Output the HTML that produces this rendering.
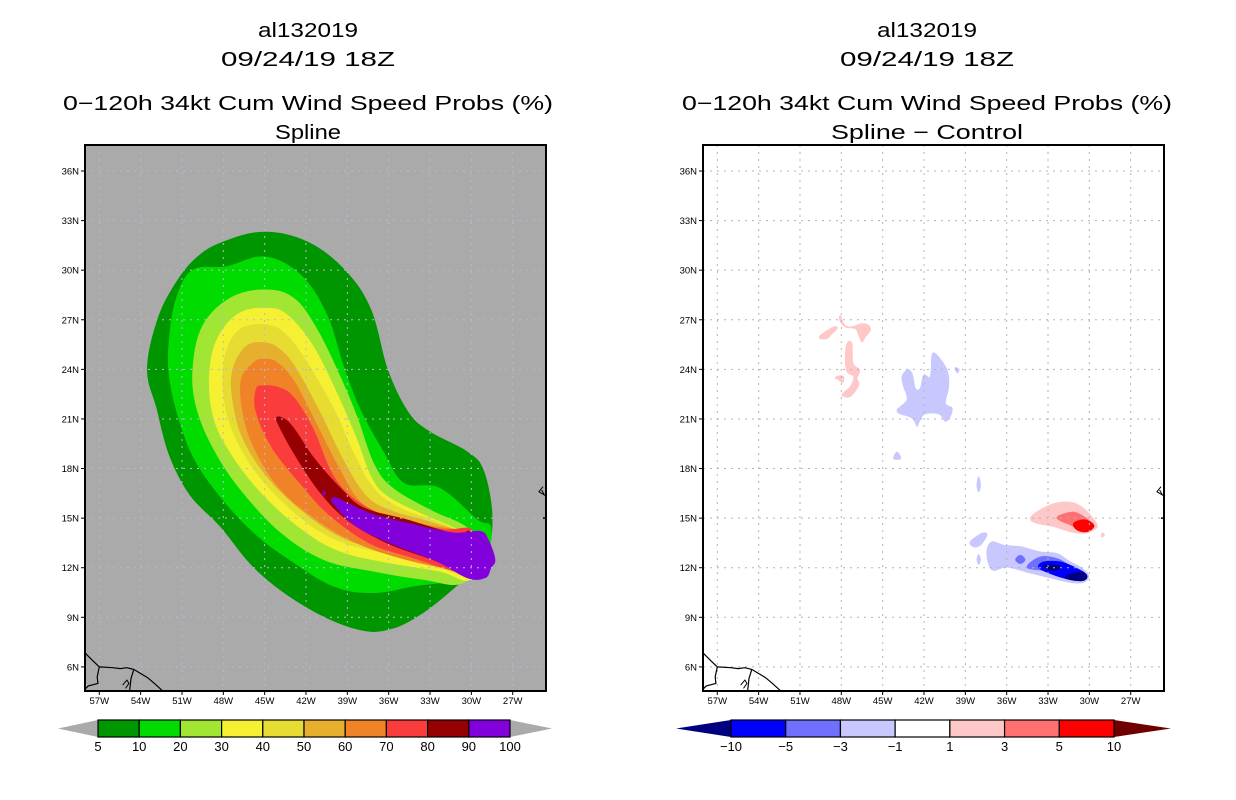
<!DOCTYPE html>
<html><head><meta charset="utf-8"><style>
html,body{margin:0;padding:0;background:#fff;}
svg{display:block;font-family:"Liberation Sans",sans-serif;}
</style></head><body>
<svg id="svg" width="1236" height="800" viewBox="0 0 1236 800" xmlns="http://www.w3.org/2000/svg"></svg>
<script>
// ---- data ----
const lonTicks = [57,54,51,48,45,42,39,36,33,30,27];
const latTicks = [36,33,30,27,24,21,18,15,12,9,6];
const probLevels = [5,10,20,30,40,50,60,70,80,90,100];
const probColors = ["#009600","#00dc00","#a0e632","#f5f032","#e6dc32","#e6af2d","#f08228","#fa3c3c","#960000","#8200dc"];
const diffLevels = ["\u221210","\u22125","\u22123","\u22121","1","3","5","10"];
const diffColors = ["#0000ff","#7070ff","#c8c8ff","#ffffff","#ffc8c8","#ff7070","#ff0000"];
// contours [lonW, lat]
const c5 = [[45,32.3],[48,31.7],[50,30.7],[51.6,29],[52.8,26.9],[53.5,24],[52.8,21.6],[51.9,18.8],[50.4,16.4],[48.2,14.5],[45.5,11.8],[41.9,9.6],[38.3,8.3],[35.9,8.3],[33.5,9.3],[31.1,10.9],[29.1,12.5],[28.5,14.9],[29.1,17.8],[30.3,19],[33,20.2],[34.6,21.4],[36.1,24],[37.3,27.6],[39.2,30],[41.9,31.7]];
const c10 = [[45,30.8],[47.8,30.2],[50.2,30],[51.4,28.3],[51.9,25.9],[51.9,23.5],[51.1,20.7],[49.9,18.3],[47.8,15.9],[45.6,14],[43.2,12.5],[40,10.9],[37.1,10.5],[34.2,10.9],[31.1,11.3],[29.1,12.3],[28.6,14.4],[29.6,14.9],[32.3,16.8],[34.9,17.1],[36.4,19],[38.1,21.6],[39.3,24.2],[40.5,27.3],[42.4,29.7]];
const c20 = [[45,28.8],[47.5,28.3],[49.5,26.6],[50.2,24],[49.9,21.6],[48.7,19.2],[46.8,16.8],[43.9,14.2],[40.7,12.5],[37.1,11.8],[33.5,11.3],[30.6,11.1],[29.4,13],[30.3,14.4],[32.8,15.4],[35.7,16.8],[37.1,18.3],[38.3,21.1],[39.5,23.5],[41.2,26.4],[42.9,28.3]];
const c30 = [[45,27.7],[47,27.3],[48.5,25.7],[49,23.5],[48.7,21.1],[47.5,19],[45.3,16.6],[42.4,14.4],[39.5,13],[35.9,12.3],[32.3,11.8],[30.1,11.3],[29.4,13.2],[30.8,14.2],[33.5,15.2],[36.1,16.3],[37.3,17.5],[38.3,19.7],[39.8,22.6],[41.5,25.4],[43.4,27.3]];
const c40 = [[45,26.7],[46.8,26.4],[47.8,25],[48,23],[47.5,20.7],[45.8,18],[42.9,15.4],[39.8,13.7],[35.9,12.8],[32.3,12],[30.1,11.6],[29.6,13.5],[32.3,14.7],[35.2,15.6],[37.1,16.8],[38.6,19],[40,21.6],[42,24.5],[43.6,26.2]];
const c50 = [[45,25.6],[46.3,25.4],[47.3,24],[47.3,22.1],[46.5,19.7],[44.6,17.3],[41.9,15.2],[39,13.7],[35.2,12.8],[31.8,12],[30.1,11.7],[29.9,13.7],[32.8,14.7],[35.7,15.4],[37.6,16.3],[39.3,18.5],[41,21.4],[42.7,24],[43.9,25.2]];
const c60 = [[45,24.6],[45.8,24.4],[46.7,23.3],[46.5,21.1],[45.6,19],[43.9,16.8],[41.2,14.9],[38.3,13.5],[34.7,12.5],[31.3,11.9],[30.1,11.8],[29.9,13.9],[32.8,14.5],[35.9,15],[38.1,16],[39.8,18.3],[41.5,21.1],[42.9,23.3],[44.1,24.4]];
const c70 = [[45,23],[45.6,22.8],[45.6,21.4],[44.4,19.2],[42.4,17.1],[40.3,15.2],[37.4,13.5],[34.2,12.6],[30.8,11.7],[29.9,11.8],[29.9,14.2],[32,14.3],[35.4,14.9],[38.1,15.9],[40,17.5],[41.5,20.4],[42.9,22.3],[44,22.9]];
const c80 = [[44.1,21.1],[43.9,20.5],[42.7,18.7],[41,16.6],[39,14.9],[36.1,13.5],[32.8,12.5],[30.3,11.6],[29.9,12],[30.1,14.1],[31.1,14],[34.7,14.9],[37.8,15.6],[39.5,16.8],[41.5,18.7],[42.7,20.2],[43.4,20.9]];
const c90 = [[40.1,16.2],[40,15.9],[38.5,14.6],[35.9,13.5],[32.5,12.4],[30.3,11.4],[29,11.4],[28.6,12],[28.3,12.5],[28.8,13.7],[29.4,14.2],[31.3,14.1],[34.7,14.7],[37.1,15.2],[39,15.9],[39.7,16.2]];
const probContours = [c5,c10,c20,c30,c40,c50,c60,c70,c80,c90];
// difference field blobs
const diffBlobs = [
 {c:"#ffc8c8", p:[[48.07,27.26],[47.83,26.76],[47.35,26.56],[46.5,26.76],[46.02,26.66],[45.9,26.36],[46.26,25.96],[46.5,25.66],[46.74,26.06],[46.98,26.46],[47.7,26.56],[48.12,26.96]]},
 {c:"#ffc8c8", p:[[49.52,26.06],[48.56,26.56],[48.31,26.46],[48.8,26.06],[49.04,25.86],[49.52,25.86]]},
 {c:"#ffc8c8", p:[[47.59,25.56],[47.23,25.56],[47.15,24.36],[46.67,23.96],[46.86,23.46],[46.74,23.06],[47.35,22.36],[47.95,22.46],[47.35,22.96],[47.1,23.56],[47.59,23.86],[47.71,24.66]]},
 {c:"#ffc8c8", p:[[48.44,23.52],[47.88,23.6],[47.88,23.2],[48.19,23.36]]},
 {c:"#c8c8ff", p:[[43.23,23.96],[42.87,23.76],[42.63,22.86],[42.27,22.86],[42.02,23.66],[41.54,23.56],[41.42,24.86],[41.06,24.86],[40.33,23.96],[40.21,22.96],[40.45,21.96],[39.97,21.66],[40.09,21.16],[40.45,20.86],[40.82,21.26],[41.42,21.36],[42.02,21.26],[42.39,20.76],[42.51,20.56],[42.87,21.06],[43.96,21.46],[43.23,22.16],[43.48,22.96],[43.6,23.56]]},
 {c:"#c8c8ff", p:[[43.96,19.0],[43.7,18.6],[44.2,18.6]]},
 {c:"#c8c8ff", p:[[39.75,24.1],[39.45,24.0],[39.6,23.8]]},
 {c:"#c8c8ff", p:[[38.03,17.5],[37.9,17.0],[38.03,16.6],[38.16,17.0]]},
 {c:"#ffc8c8", p:[[34.28,15],[33.56,15.51],[32.35,15.92],[31.14,15.92],[30.17,15.41],[29.44,14.59],[29.69,14.28],[30.41,14.08],[31.38,14.18],[32.59,14.49],[33.8,14.69]]},
 {c:"#ffc8c8", p:[[29.1,14.1],[28.9,13.98],[29.1,13.85]]},
 {c:"#ff7070", p:[[32.35,15],[31.62,15.31],[30.9,15.31],[29.93,14.8],[29.69,14.49],[30.41,14.28],[31.38,14.59]]},
 {c:"#ff0000", p:[[31.14,14.69],[30.41,14.9],[29.81,14.69],[29.69,14.45],[30.17,14.18],[30.9,14.29]]},
 {c:"#c8c8ff", p:[[38.64,13.57],[37.79,14.08],[37.43,13.98],[37.91,13.37],[38.4,13.27]]},
 {c:"#c8c8ff", p:[[38.03,12.8],[37.9,12.5],[38.03,12.2],[38.16,12.5]]},
 {c:"#c8c8ff", p:[[37.43,13.06],[37.06,13.57],[36.22,13.37],[35.01,13.27],[33.56,12.96],[32.35,12.86],[31.38,12.35],[30.65,12.04],[30.05,11.53],[30.41,11.12],[31.38,11.12],[33.07,11.43],[34.52,11.73],[35.98,12.04],[36.94,11.84],[37.31,12.24]]},
 {c:"#7070ff", p:[[34.52,12.04],[33.56,12.65],[32.35,12.55],[31.62,12.24],[30.9,11.94],[31.62,11.73],[33.31,11.84]]},
 {c:"#7070ff", p:[[35.35,12.49],[35.01,12.75],[34.67,12.49],[35.01,12.25]]},
 {c:"#0000ff", p:[[33.68,12.04],[33.31,12.35],[32.1,12.35],[31.14,12.04],[30.41,11.73],[30.17,11.47],[30.53,11.22],[31.62,11.33],[33.07,11.73]]},
 {c:"#000080", p:[[33.31,12.14],[32.35,12.14],[32.1,11.94],[32.83,11.84]]},
 {c:"#000080", p:[[31.62,11.53],[30.65,11.73],[30.17,11.47],[30.53,11.22],[31.62,11.33]]}
];
const coast = [[58.1,6.9],[57.5,6.4],[57,6.0],[56,5.95],[55.5,5.9],[55,5.95],[54.5,5.85],[54,5.6],[53.5,5.35],[53,5.0],[52.4,4.55]];
const border1 = [[57.0,6.0],[57.15,5.4],[57.1,5.0],[57.8,4.85],[58.1,4.6]];
const border2 = [[54.5,5.85],[54.7,5.3],[54.8,4.55]];
const titleL = ["al132019","09/24/19 18Z","0\u2212120h 34kt Cum Wind Speed Probs (%)","Spline"];
const titleR = ["al132019","09/24/19 18Z","0\u2212120h 34kt Cum Wind Speed Probs (%)","Spline \u2212 Control"];

// ---- helpers ----
const NS="http://www.w3.org/2000/svg";
const svg=document.getElementById('svg');
function mk(tag,attrs,parent){const e=document.createElementNS(NS,tag);for(const k in attrs)e.setAttribute(k,attrs[k]);(parent||svg).appendChild(e);return e;}
function X(lonW,ox){return 99.3+(57-lonW)*13.78+ox;}
function Y(lat){return 171+(36-lat)*16.53;}
function pts(arr,ox){return arr.map(p=>X(p[0],ox).toFixed(1)+','+Y(p[1]).toFixed(1)).join(' ');}
function smooth(arr,ox){
  const P=arr.map(p=>[X(p[0],ox),Y(p[1])]);const n=P.length;
  let d='M'+P[0][0].toFixed(1)+','+P[0][1].toFixed(1);
  for(let i=0;i<n;i++){
    const p0=P[(i-1+n)%n],p1=P[i],p2=P[(i+1)%n],p3=P[(i+2)%n];
    const t=0.18;
    const c1=[p1[0]+(p2[0]-p0[0])*t,p1[1]+(p2[1]-p0[1])*t];
    const c2=[p2[0]-(p3[0]-p1[0])*t,p2[1]-(p3[1]-p1[1])*t];
    d+=' C'+c1.map(v=>v.toFixed(1)).join(',')+' '+c2.map(v=>v.toFixed(1)).join(',')+' '+p2.map(v=>v.toFixed(1)).join(',');
  }
  return d+'Z';
}
const FX0=85,FX1=546,FY0=145,FY1=691;

function panel(ox,idx){
  const g=mk('g',{});
  
  
  const cp=mk('clipPath',{id:'clip'+idx},g);
  mk('rect',{x:FX0+ox,y:FY0,width:FX1-FX0,height:FY1-FY0},cp);
  const inner=mk('g',{'clip-path':'url(#clip'+idx+')'},g);
  const bg=mk('rect',{x:FX0+ox,y:FY0,width:FX1-FX0,height:FY1-FY0,fill:idx===0?'#aaaaaa':'#ffffff'},inner);
  
  
  if(idx===0){
    probContours.forEach((c,i)=>{
      const pg=mk('path',{d:smooth(c,ox),fill:probColors[i],stroke:probColors[i],'stroke-width':1},inner);
      
      
    });
    const dot=mk('polygon',{points:pts([[40.8,16.7],[40.5,16.5],[40.8,16.35]],ox),fill:'#8200dc'},inner);
    
    
  } else {
    diffBlobs.forEach((b,i)=>{
      const pg=mk('path',{d:smooth(b.p,ox),fill:b.c,stroke:b.c,'stroke-width':0.8},inner);
      
      
    });
  }
  const gc=idx===0?'#b8b8d8':'#b4b4b4';
  lonTicks.forEach(l=>{
    const ln=mk('line',{x1:X(l,ox),x2:X(l,ox),y1:FY0,y2:FY1,stroke:gc,'stroke-width':1,'stroke-dasharray':'2,5'},inner);
    
    
  });
  latTicks.forEach(l=>{
    const ln=mk('line',{x1:FX0+ox,x2:FX1+ox,y1:Y(l),y2:Y(l),stroke:gc,'stroke-width':1,'stroke-dasharray':'2,5'},inner);
    
    
  });
  [coast,border1,border2].forEach(c=>{
    const pl=mk('polyline',{points:pts(c,ox),fill:'none',stroke:'#000','stroke-width':1.2},inner);
    
    
  });
  const isl=mk('polyline',{points:pts([[55.3,4.9],[55.0,5.2],[54.85,5.0],[55.1,4.7]],ox),fill:'none',stroke:'#000','stroke-width':1},inner);
  
  
  const cv=mk('polyline',{points:pts([[24.8,16.9],[25.1,16.6],[24.7,16.4],[24.9,16.7]],ox),fill:'none',stroke:'#000','stroke-width':1},inner);
  
  
  const fr=mk('rect',{x:FX0+ox,y:FY0,width:FX1-FX0,height:FY1-FY0,fill:'none',stroke:'#000','stroke-width':2},g);
  
  
  mk('line',{x1:FX1+ox-3,x2:FX1+ox,y1:Y(15),y2:Y(15),stroke:'#000','stroke-width':1.5},g);
  latTicks.forEach(l=>{
    mk('line',{x1:FX0+ox-4,x2:FX0+ox,y1:Y(l),y2:Y(l),stroke:'#000','stroke-width':1},g);
    const t=mk('text',{x:FX0+ox-6,y:Y(l)+3.5,'font-size':9.5,'text-anchor':'end',fill:'#000'},g);
    t.textContent=l+'N';
    
    
  });
  lonTicks.forEach(l=>{
    mk('line',{x1:X(l,ox),x2:X(l,ox),y1:FY1,y2:FY1+4,stroke:'#000','stroke-width':1},g);
    const t=mk('text',{x:X(l,ox),y:FY1+13,'font-size':9.5,'text-anchor':'middle',fill:'#000'},g);
    t.textContent=l+'W';
    
    
  });
  const tl=idx===0?titleL:titleR;
  const cx=idx===0?308:927;
  const ys=[37,66,110,139];
  const ws=[100,174,490,idx===0?66:192];
  tl.forEach((s,i)=>{
    const t=mk('text',{x:cx,y:ys[i],'font-size':20,'text-anchor':'middle',fill:'#000',textLength:ws[i],lengthAdjust:'spacingAndGlyphs'},g);
    t.textContent=s;
    
    
  });
}
panel(0,0);
panel(618,1);

// colorbars
function colorbar(x0,x1,tl,tr,colors,labels,lc,rc,name){
  const g=mk('g',{});
  
  
  const y0=720,y1=737,ym=728.5;
  const n=colors.length,w=(x1-x0)/n;
  const lt=mk('polygon',{points:`${tl},${ym} ${x0},${y0} ${x0},${y1}`,fill:lc},g);
  
  
  const rt=mk('polygon',{points:`${tr},${ym} ${x1},${y0} ${x1},${y1}`,fill:rc},g);
  
  
  colors.forEach((c,i)=>{
    const r=mk('rect',{x:x0+i*w,y:y0,width:w,height:y1-y0,fill:c,stroke:'#000','stroke-width':1.2},g);
    
    
  });
  labels.forEach((s,i)=>{
    const t=mk('text',{x:x0+i*w,y:751,'font-size':13,'text-anchor':'middle',fill:'#000'},g);
    t.textContent=s;
    
    
  });
}
colorbar(98,510,58,552,probColors,probLevels.map(String),'#aaaaaa','#aaaaaa','prob-colorbar');
colorbar(731,1114,676,1171,diffColors,diffLevels,'#000080','#700000','diff-colorbar');
</script>
</body></html>
